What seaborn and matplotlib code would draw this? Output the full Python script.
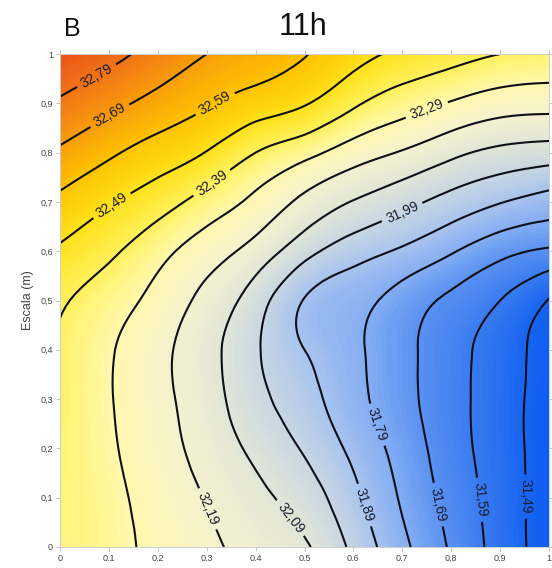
import numpy as np
import pandas as pd
import matplotlib
matplotlib.use("Agg")
import matplotlib.pyplot as plt
import matplotlib.tri as mtri
import seaborn as sns
from matplotlib.colors import LinearSegmentedColormap, Normalize

# ---- data (temperature field, 11 x 11 grid) ----
x_pos = [0.0, 0.1, 0.2, 0.3, 0.4, 0.5, 0.6, 0.7, 0.8, 0.9, 1.0]
y_pos = [0.0, 0.1, 0.2, 0.3, 0.4, 0.5, 0.6, 0.7, 0.8, 0.9, 1.0]

temp_y00 = [32.35, 32.32, 32.266, 32.212, 32.157, 32.103, 31.967, 31.814, 31.678, 31.551, 31.44]
temp_y01 = [32.36, 32.315, 32.251, 32.185, 32.115, 32.042, 31.916, 31.778, 31.655, 31.545, 31.44]
temp_y02 = [32.37, 32.304, 32.231, 32.153, 32.068, 31.979, 31.866, 31.75, 31.635, 31.538, 31.44]
temp_y03 = [32.375, 32.297, 32.218, 32.132, 32.022, 31.928, 31.824, 31.723, 31.626, 31.536, 31.44]
temp_y04 = [32.38, 32.30, 32.218, 32.124, 32.003, 31.89, 31.81, 31.719, 31.629, 31.54, 31.45]
temp_y05 = [32.404, 32.335, 32.258, 32.159, 32.039, 31.885, 31.823, 31.747, 31.669, 31.59, 31.485]
temp_y06 = [32.476, 32.41, 32.323, 32.238, 32.151, 32.026, 31.935, 31.875, 31.80, 31.721, 31.675]
temp_y07 = [32.567, 32.50, 32.434, 32.35, 32.266, 32.165, 32.085, 32.021, 31.954, 31.895, 31.849]
temp_y08 = [32.674, 32.607, 32.546, 32.486, 32.39, 32.321, 32.241, 32.182, 32.115, 32.065, 32.043]
temp_y09 = [32.777, 32.718, 32.658, 32.60, 32.546, 32.498, 32.407, 32.336, 32.283, 32.239, 32.226]
temp_y10 = [32.87, 32.82, 32.753, 32.69, 32.643, 32.595, 32.527, 32.471, 32.43, 32.39, 32.37]

levels = [31.49, 31.59, 31.69, 31.79, 31.89, 31.99, 32.09, 32.19, 32.29, 32.39, 32.49, 32.59, 32.69, 32.79]

x_ticklabels = ["0", "0.1", "0.2", "0.3", "0.4", "0.5", "0.6", "0.7", "0.8", "0.9", "1"]
y_ticklabels = ["0", "0,1", "0,2", "0,3", "0,4", "0,5", "0,6", "0,7", "0,8", "0,9", "1"]

title_text = "11h"
panel_text = "B"
ylabel_text = "Escala (m)"

# ---- colour scale ----
cmap_values = [31.40, 31.49, 31.59, 31.69, 31.79, 31.89, 31.99, 32.09, 32.19,
               32.29, 32.39, 32.49, 32.59, 32.69, 32.79, 32.90]
cmap_colors = ["#0a58f2", "#1765f0", "#3a7cf0", "#5a91f2", "#84adf3", "#a8c3ee",
               "#c7d6e2", "#e0e5d6", "#f4f1cf", "#fff8b0", "#fff15e", "#ffe21c",
               "#fec400", "#f89e0a", "#f17416", "#e84a1a"]
vmin, vmax = cmap_values[0], cmap_values[-1]
cmap = LinearSegmentedColormap.from_list(
    "temp", [((v - vmin) / (vmax - vmin), c) for v, c in zip(cmap_values, cmap_colors)])

sns.set_theme(style="white")
plt.rcParams['font.family'] = ['Liberation Sans', 'DejaVu Sans']

Z = pd.DataFrame([temp_y00, temp_y01, temp_y02, temp_y03, temp_y04, temp_y05,
                  temp_y06, temp_y07, temp_y08, temp_y09, temp_y10],
                 index=y_pos, columns=x_pos)
X, Y = np.meshgrid(Z.columns.values, Z.index.values)

# regular triangulation of the grid (consistent diagonals)
nx, ny = len(x_pos), len(y_pos)
triangles = []
for j in range(ny - 1):
    for i in range(nx - 1):
        a = j * nx + i
        b = a + 1
        c = a + nx
        d = c + 1
        triangles.append([a, b, d])
        triangles.append([a, d, c])
tri = mtri.Triangulation(X.ravel(), Y.ravel(), triangles=np.array(triangles))

# matplotlib's own smooth (cubic) rendering of the grid
interp = mtri.CubicTriInterpolator(tri, Z.values.ravel(), kind='min_E')
refiner = mtri.UniformTriRefiner(tri)
tri_f, z_f = refiner.refine_field(Z.values.ravel(), triinterpolator=interp, subdiv=3)

fig = plt.figure(figsize=(5.52, 5.68), dpi=100)
ax = fig.add_axes([60 / 552, 1 - 547 / 568, 489 / 552, 493 / 568])

fill_levels = np.linspace(vmin, vmax, 151)
ax.tricontourf(tri_f, z_f, levels=fill_levels, cmap=cmap,
               norm=Normalize(vmin, vmax), extend='both')
cs = ax.tricontour(tri_f, z_f, levels=levels, colors='#101018', linewidths=1.5)
ax.clabel(cs, fmt=lambda v: f"{v:.2f}".replace('.', ','), fontsize=10,
          inline=True, inline_spacing=5, colors='#1c1c30')

ax.set_xlim(0, 1)
ax.set_ylim(0, 1)
ax.set_xticks(x_pos)
ax.set_xticklabels(x_ticklabels)
ax.set_yticks(y_pos)
ax.set_yticklabels(y_ticklabels)
ax.tick_params(axis='both', direction='out', length=3, width=0.6, color='#bdbdbd',
               labelsize=6.5, labelcolor='#444444', pad=2,
               top=True, right=True, bottom=True, left=True)
for s in ax.spines.values():
    s.set_color('#cfcfcf')
    s.set_linewidth(0.7)

ax.set_ylabel(ylabel_text, fontsize=9, color='#444444')
ax.yaxis.set_label_coords((34 - 60) / 489, 0.5)

fig.text(303 / 552, 1 - 35 / 568, title_text, ha='center', va='baseline',
         fontsize=22, color='#111111')
fig.text(64 / 552, 1 - 36 / 568, panel_text, ha='left', va='baseline',
         fontsize=18, color='#111111')

fig.savefig("out.png", dpi=100)
